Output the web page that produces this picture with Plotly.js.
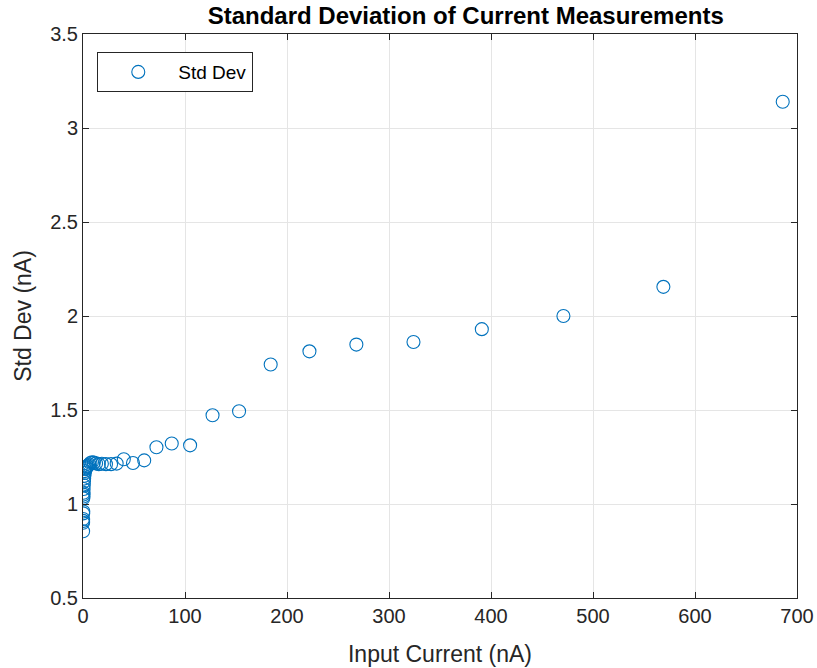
<!DOCTYPE html>
<html>
<head>
<meta charset="utf-8">
<script src="https://cdn.plot.ly/plotly-3.0.1.min.js"></script>
<style>html,body{margin:0;padding:0;background:#fff;}</style>
</head>
<body>
<div id="chart" style="width:817px;height:668px;"></div>
<script>
const inputCurrent = [686, 569, 471, 391, 324, 268, 222, 184, 153, 127, 105, 87, 72, 60, 49, 40, 33, 27.5, 22.5, 18.5, 15.5, 12.8, 10.6, 8.8, 7.3, 6.1, 5.0, 4.2, 3.5, 2.9, 2.4, 2.0, 1.65, 1.37, 1.13, 0.94, 0.78, 0.64, 0.53, 0.44, 0.37, 0.30, 0.25, 0.21, 0.17, 0.14, 0.12, 0.10];
const stdDev = [3.14, 2.155, 2.0, 1.93, 1.862, 1.848, 1.812, 1.742, 1.493, 1.472, 1.312, 1.322, 1.302, 1.232, 1.218, 1.238, 1.215, 1.212, 1.212, 1.214, 1.212, 1.216, 1.22, 1.222, 1.218, 1.21, 1.205, 1.2, 1.195, 1.19, 1.185, 1.175, 1.165, 1.15, 1.135, 1.12, 1.1, 1.08, 1.06, 1.05, 1.04, 1.03, 0.96, 0.95, 0.92, 0.91, 0.90, 0.855];
const seriesName = 'Std Dev';
const xTicks = [0, 100, 200, 300, 400, 500, 600, 700];
const yTicks = [0.5, 1, 1.5, 2, 2.5, 3, 3.5];

const trace = {
  x: inputCurrent,
  y: stdDev,
  type: 'scatter',
  mode: 'markers',
  name: seriesName,
  marker: {symbol: 'circle-open', size: 13, color: '#0072BD', line: {width: 1.1, color: '#0072BD'}},
  showlegend: true
};

const axisCommon = {
  showline: true, mirror: 'ticks', linecolor: '#262626', linewidth: 1,
  ticks: 'inside', ticklen: 6, tickcolor: '#262626',
  showgrid: true, gridcolor: '#e5e5e5', gridwidth: 1,
  zeroline: false,
  tickfont: {family: 'Liberation Sans, Arial, sans-serif', size: 20, color: '#262626'}
};

const layout = {
  width: 817, height: 668,
  margin: {l: 83, r: 20, t: 34, b: 70},
  paper_bgcolor: '#ffffff', plot_bgcolor: '#ffffff',
  font: {family: 'Liberation Sans, Arial, sans-serif', color: '#262626'},
  title: {text: '<b>Standard Deviation of Current Measurements</b>', font: {size: 24, color: '#000'}, x: 0.57, xanchor: 'center', y: 0.989, yanchor: 'top'},
  xaxis: Object.assign({}, axisCommon, {
    range: [0, 700], tickvals: xTicks, ticktext: xTicks.map(String),
    title: {text: 'Input Current (nA)', font: {size: 23, color: '#262626'}, standoff: 19}
  }),
  yaxis: Object.assign({}, axisCommon, {
    range: [0.5, 3.5], tickvals: yTicks, ticktext: yTicks.map(String),
    title: {text: 'Std Dev (nA)', font: {size: 23, color: '#262626'}, standoff: 12}
  }),
  legend: {x: 0.02, y: 0.968, xanchor: 'left', yanchor: 'top', bgcolor: '#ffffff', bordercolor: '#262626', borderwidth: 1,
    font: {size: 19, color: '#000'}, itemwidth: 70, tracegroupgap: 0}
};

Plotly.newPlot('chart', [trace], layout, {displayModeBar: false, staticPlot: true});
</script>
</body>
</html>
